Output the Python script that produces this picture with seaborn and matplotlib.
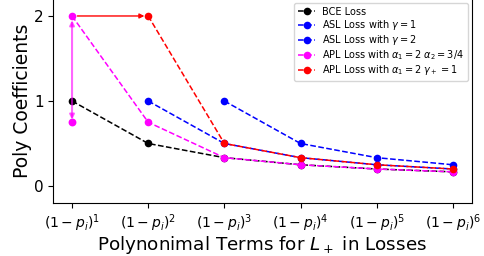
import numpy as np
import pandas as pd
import matplotlib
matplotlib.use("Agg")
import matplotlib.pyplot as plt
import seaborn as sns

# polynomial term index (1 - p_i)^k
terms = [1, 2, 3, 4, 5, 6]
tick_labels = [r"$(1-p_i)^{%d}$" % k for k in terms]

bce_x = [1, 2, 3, 4, 5, 6]
bce_y = [1, 1/2, 1/3, 1/4, 1/5, 1/6]

asl1_x = [2, 3, 4, 5, 6]
asl1_y = [1, 1/2, 1/3, 1/4, 1/5]

asl2_x = [3, 4, 5, 6]
asl2_y = [1, 1/2, 1/3, 1/4]

apl_a_x = [1, 2, 3, 4, 5, 6]
apl_a_y = [2, 3/4, 1/3, 1/4, 1/5, 1/6]

apl_g_x = [2, 3, 4, 5, 6]
apl_g_y = [2, 1/2, 1/3, 1/4, 1/5]

# extra magenta point (alpha_2 scaling of first term)
extra_x = [1]
extra_y = [3/4]

series = [
    ("BCE Loss", bce_x, bce_y, "black"),
    (r"ASL Loss with $\gamma = 1$", asl1_x, asl1_y, "blue"),
    (r"ASL Loss with $\gamma = 2$", asl2_x, asl2_y, "blue"),
    (r"APL Loss with $\alpha_1 = 2$ $\alpha_2 = 3/4$", apl_a_x, apl_a_y, "magenta"),
    (r"APL Loss with $\alpha_1 = 2$ $\gamma_+ = 1$", apl_g_x, apl_g_y, "red"),
]

fig = plt.figure(figsize=(4.84, 2.56), dpi=100)
ax = fig.add_axes([0.1095, 0.207, 0.8655, 0.797])

for label, xs, ys, c in series:
    df = pd.DataFrame({"term": xs, "coef": ys})
    sns.lineplot(data=df, x="term", y="coef", ax=ax, color=c, linestyle="--",
                 marker="o", markersize=5.5, markeredgewidth=0, linewidth=1.1,
                 label=label)

sns.scatterplot(x=extra_x, y=extra_y, ax=ax, color="magenta", s=32,
                linewidth=0, legend=False)

# arrows
ax.annotate("", xy=(extra_x[0], apl_a_y[0] - 0.05), xytext=(extra_x[0], extra_y[0] + 0.03),
            arrowprops=dict(arrowstyle="<|-|>", color="magenta", alpha=0.6,
                            lw=1.5, mutation_scale=7, shrinkA=0, shrinkB=0))
ax.annotate("", xy=(apl_g_x[0] - 0.05, apl_g_y[0]), xytext=(apl_a_x[0] + 0.07, apl_a_y[0]),
            arrowprops=dict(arrowstyle="-|>", color="red", lw=1,
                            mutation_scale=7, shrinkA=0, shrinkB=0))

ax.set_xlim(0.75, 6.25)
ax.set_ylim(-0.2, 2.2)
ax.set_xticks(terms)
ax.set_xticklabels(tick_labels, fontsize=10)
ax.set_yticks([0, 1, 2])
ax.tick_params(axis="y", labelsize=11, pad=3)
ax.tick_params(axis="x", pad=3, length=3.5)
ax.set_xlabel(r"Polynonimal Terms for $L_+$ in Losses", fontsize=13.2, labelpad=0)
ax.set_ylabel("Poly Coefficients", fontsize=13.5, labelpad=1.5)

ax.legend(loc="upper right", fontsize=7, frameon=True, borderaxespad=0.4,
          labelspacing=0.12, handlelength=1.8, handletextpad=0.7)

fig.savefig("out.png", dpi=100)
